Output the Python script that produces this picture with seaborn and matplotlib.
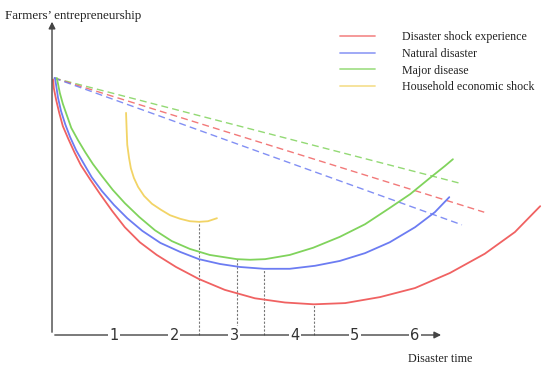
import numpy as np
import pandas as pd
import matplotlib
matplotlib.use("Agg")
import matplotlib.pyplot as plt
import seaborn as sns

sns.set_style("white")

# colours
c_red = "#f06262"
c_blue = "#6c7cf2"
c_green = "#80d35c"
c_yellow = "#f2d466"

# solid curves (disaster time, entrepreneurship level)
red_x = [-0.01, 0.00, 0.04, 0.09, 0.15, 0.24, 0.34, 0.45, 0.60, 0.77, 0.97, 1.18, 1.43, 1.71,
         2.03, 2.41, 2.84, 3.34, 3.84, 4.32, 4.84, 5.42, 6.00, 6.58, 7.16, 7.66, 8.08]
red_y = [4.24, 4.10, 3.90, 3.69, 3.47, 3.26, 3.04, 2.82, 2.59, 2.34, 2.06, 1.79, 1.54, 1.33,
         1.13, 0.93, 0.75, 0.61, 0.54, 0.51, 0.53, 0.63, 0.78, 1.03, 1.35, 1.71, 2.14]

blue_x = [0.02, 0.04, 0.07, 0.12, 0.19, 0.27, 0.37, 0.49, 0.63, 0.80, 1.00, 1.22, 1.47, 1.77,
          2.10, 2.41, 2.76, 3.09, 3.49, 3.92, 4.34, 4.75, 5.17, 5.58, 6.00, 6.33, 6.57]
blue_y = [4.27, 4.14, 3.94, 3.72, 3.50, 3.29, 3.07, 2.86, 2.62, 2.39, 2.16, 1.94, 1.73, 1.53,
          1.38, 1.26, 1.18, 1.13, 1.10, 1.10, 1.15, 1.23, 1.36, 1.54, 1.79, 2.04, 2.29]

green_x = [0.05, 0.07, 0.10, 0.15, 0.22, 0.29, 0.40, 0.52, 0.65, 0.80, 0.98, 1.18, 1.42, 1.68,
           1.96, 2.26, 2.59, 3.04, 3.26, 3.51, 3.92, 4.31, 4.75, 5.17, 5.58, 5.92, 6.25, 6.50, 6.63]
green_y = [4.27, 4.17, 4.02, 3.84, 3.64, 3.44, 3.24, 3.04, 2.84, 2.64, 2.41, 2.19, 1.96, 1.74,
           1.56, 1.43, 1.33, 1.26, 1.25, 1.26, 1.33, 1.45, 1.63, 1.84, 2.11, 2.34, 2.61, 2.81, 2.92]

yellow_x = [1.20, 1.21, 1.22, 1.25, 1.28, 1.33, 1.40, 1.50, 1.63, 1.78, 1.93, 2.10, 2.26, 2.41, 2.56, 2.71]
yellow_y = [3.69, 3.41, 3.16, 2.94, 2.77, 2.61, 2.46, 2.31, 2.18, 2.08, 1.99, 1.93, 1.89, 1.88, 1.89, 1.94]

# dashed trend lines: start and end points
dash_start = (0.0, 4.27)
dash_end = {"green": (6.75, 2.52), "red": (7.15, 2.04), "blue": (6.78, 1.83)}

# minima marked with dotted drop lines
min_x = [2.41, 3.04, 3.49, 4.32]
min_y = [1.88, 1.26, 1.10, 0.51]

ticks = [1, 2, 3, 4, 5, 6]
labels = ["Disaster shock experience", "Natural disaster", "Major disease", "Household economic shock"]

fig = plt.figure(figsize=(5.5, 3.71), dpi=100)
ax = fig.add_axes([0, 0, 1, 1])
ax.set_xlim(-0.894, 8.243)
ax.set_ylim(-0.598, 5.565)
ax.axis("off")

# dashed lines first
for key, col in [("green", c_green), ("red", c_red), ("blue", c_blue)]:
    ex, ey = dash_end[key]
    d = pd.DataFrame({"x": [dash_start[0], ex], "y": [dash_start[1], ey]})
    sns.lineplot(data=d, x="x", y="y", ax=ax, color=col, lw=1.0, alpha=0.85,
                 linestyle=(0, (5, 3)), estimator=None, sort=False)

# dotted drop lines
for mx, my in zip(min_x, min_y):
    ax.plot([mx, mx], [0, my], color="#777777", lw=0.8, linestyle=(0, (2, 1.5)), zorder=1)

curves = [(red_x, red_y, c_red), (blue_x, blue_y, c_blue),
          (green_x, green_y, c_green), (yellow_x, yellow_y, c_yellow)]
for xs, ys, col in curves:
    d = pd.DataFrame({"x": xs, "y": ys})
    sns.lineplot(data=d, x="x", y="y", ax=ax, color=col, lw=1.3,
                 estimator=None, sort=False)

# axes with arrows
axc = "#444444"
ax.annotate("", xy=(-0.03, 5.25), xytext=(-0.03, 0),
            arrowprops=dict(arrowstyle="-|>", color=axc, lw=1.0, mutation_scale=10))
ax.annotate("", xy=(6.48, 0), xytext=(-0.03, 0),
            arrowprops=dict(arrowstyle="-|>", color=axc, lw=1.0, mutation_scale=10))

for t in ticks:
    ax.text(t, 0, str(t), ha="center", va="center", fontsize=10.5, color="#333333",
            family="DejaVu Sans",
            bbox=dict(boxstyle="square,pad=0.1", fc="white", ec="none"))

serif = "Liberation Serif"
ax.text(-0.81, 5.30, "Farmers’ entrepreneurship", fontsize=9.4, family=serif,
        ha="left", va="center", color="#222222")
ax.text(5.88, -0.40, "Disaster time", fontsize=8.7, family=serif,
        ha="left", va="center", color="#222222")

handles = [plt.Line2D([], [], color=c, lw=1.3, alpha=0.7) for c in [c_red, c_blue, c_green, c_yellow]]
leg = ax.legend(handles, labels, loc="upper left", bbox_to_anchor=(340 / 550, 1 - 31 / 371),
                frameon=False, prop={"family": serif, "size": 8.6}, handlelength=2.95,
                handletextpad=2.25, labelspacing=0.4, borderpad=0, borderaxespad=0)
for txt in leg.get_texts():
    txt.set_color("#222222")

fig.savefig("out.png", dpi=100)
